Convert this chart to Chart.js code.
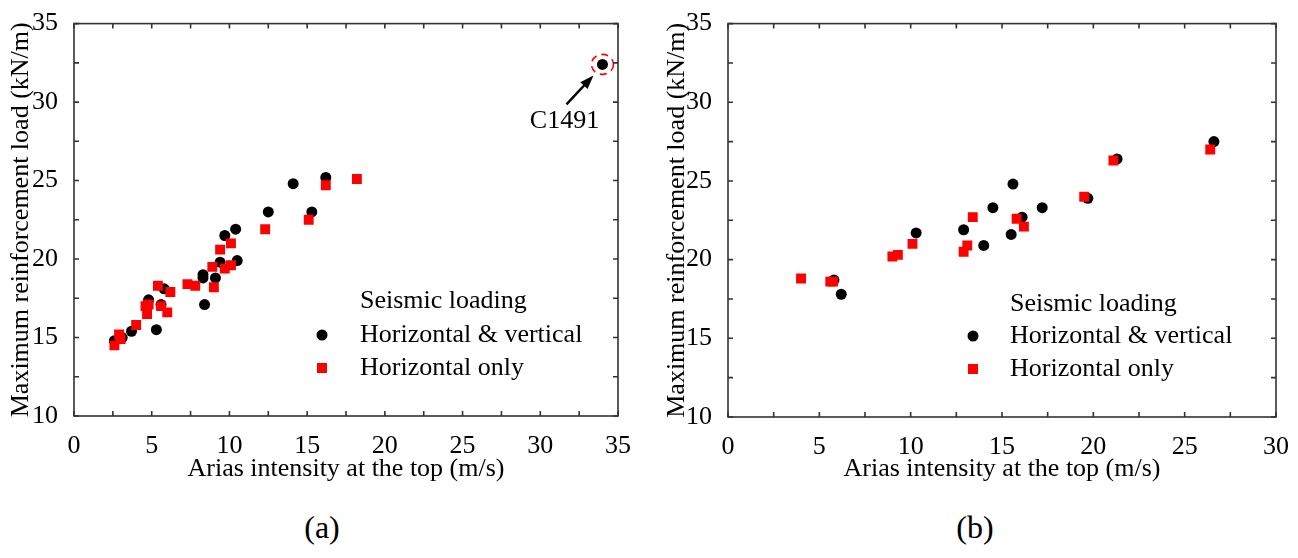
<!DOCTYPE html>
<html>
<head>
<meta charset="utf-8">
<script src="https://cdn.jsdelivr.net/npm/chart.js@4.4.1/dist/chart.umd.min.js"></script>
<style>
  body { margin: 0; background: #fff; }
  #wrap { position: relative; width: 1298px; height: 558px; }
  canvas { position: absolute; top: 0; }
  .cap { position: absolute; top: 509px; width: 100px; height: 40px; line-height: 40px;
         text-align: center; font: 32px "Liberation Serif", "Times New Roman", serif; color: #000; }
</style>
</head>
<body>
<div id="wrap">
  <canvas id="chart_a" width="650" height="500" style="left:0"></canvas>
  <canvas id="chart_b" width="648" height="500" style="left:650px"></canvas>
  <div class="cap" style="left:272px">(a)</div>
  <div class="cap" style="left:925px">(b)</div>
</div>
<script>
/* data */
const seriesNames = ['Horizontal & vertical', 'Horizontal only'];
const legendTitle = 'Seismic loading';
const xTitle = 'Arias intensity at the top (m/s)';
const yTitle = 'Maximum reinforcement load (kN/m)';

// panel (a)
const blackA_x = [2.6, 3.1, 3.7, 4.8, 5.3, 5.6, 5.8, 8.3, 8.3, 8.4, 9.1, 9.4, 9.7, 10.4, 10.5, 12.5, 14.1, 15.3, 16.2, 34.0];
const blackA_y = [14.8, 15.0, 15.4, 17.4, 15.5, 17.1, 18.1, 18.8, 19.0, 17.1, 18.8, 19.8, 21.5, 21.9, 19.9, 23.0, 24.8, 23.0, 25.2, 32.4];
const redA_x = [2.6, 2.9, 3.0, 4.0, 4.6, 4.7, 4.8, 5.4, 5.6, 6.0, 6.2, 7.3, 7.8, 8.9, 9.0, 9.4, 9.7, 10.1, 10.1, 12.3, 15.1, 16.2, 18.2];
const redA_y = [14.5, 15.2, 14.9, 15.8, 17.0, 16.5, 17.1, 18.3, 17.0, 16.6, 17.9, 18.4, 18.3, 19.5, 18.2, 20.6, 19.4, 21.0, 19.6, 21.9, 22.5, 24.7, 25.1];
const markedLabel = 'C1491';
const markedIndex = blackA_x.length - 1;

// panel (b)
const blackB_x = [5.8, 6.2, 10.3, 12.9, 14.0, 14.5, 15.5, 15.6, 16.1, 17.2, 19.7, 21.3, 26.6];
const blackB_y = [18.7, 17.8, 21.7, 21.9, 20.9, 23.3, 21.6, 24.8, 22.7, 23.3, 23.9, 26.4, 27.5];
const redB_x = [4.0, 5.6, 5.75, 9.0, 9.3, 10.1, 12.9, 13.1, 13.4, 15.8, 16.2, 19.5, 21.1, 26.4];
const redB_y = [18.8, 18.6, 18.6, 20.2, 20.3, 21.0, 20.5, 20.9, 22.7, 22.6, 22.1, 24.0, 26.3, 27.0];

const xMaxA = 35, xMaxB = 30;
const yMin = 10, yMax = 35;
const tickStep = 5, minorStep = 2.5;

const FONT = '"Liberation Serif", "Times New Roman", serif';

function toPoints(xs, ys) {
    return xs.map((x, i) => ({x: x, y: ys[i]}));
}

/* frame with inward ticks on all four sides */
const frameTicks = {
    id: 'frameTicks',
    afterDraw(chart) {
        const {ctx, chartArea: a, scales: {x, y}} = chart;
        ctx.save();
        ctx.strokeStyle = '#333';
        ctx.lineWidth = 1.6;
        ctx.strokeRect(a.left, a.top, a.right - a.left, a.bottom - a.top);
        ctx.beginPath();
        for (let v = x.min; v <= x.max + 1e-9; v += minorStep) {
            const p = x.getPixelForValue(v);
            ctx.moveTo(p, a.bottom); ctx.lineTo(p, a.bottom - 5);
            ctx.moveTo(p, a.top); ctx.lineTo(p, a.top + 5);
        }
        for (let v = y.min; v <= y.max + 1e-9; v += minorStep) {
            const p = y.getPixelForValue(v);
            ctx.moveTo(a.left, p); ctx.lineTo(a.left + 5, p);
            ctx.moveTo(a.right, p); ctx.lineTo(a.right - 5, p);
        }
        ctx.stroke();
        ctx.restore();
    }
};

/* legend drawn inside the plot */
const seismicLegend = {
    id: 'seismicLegend',
    afterDraw(chart, args, opts) {
        const ctx = chart.ctx;
        ctx.save();
        ctx.font = '26px ' + FONT;
        ctx.fillStyle = '#000';
        ctx.textBaseline = 'middle';
        ctx.textAlign = 'left';
        ctx.fillText(legendTitle, opts.textX, opts.rows[0]);
        ctx.fillText(seriesNames[0], opts.textX, opts.rows[1]);
        ctx.fillText(seriesNames[1], opts.textX, opts.rows[2]);
        ctx.beginPath();
        ctx.arc(opts.markX, opts.rows[1], 5.5, 0, Math.PI * 2);
        ctx.fill();
        ctx.fillStyle = 'red';
        ctx.fillRect(opts.markX - 5, opts.rows[2] - 5, 10, 10);
        ctx.restore();
    }
};

/* C1491 call-out on panel (a) */
const callout = {
    id: 'callout',
    afterDatasetsDraw(chart, args, opts) {
        if (!opts.show) return;
        const {ctx, scales: {x, y}} = chart;
        const px = x.getPixelForValue(blackA_x[markedIndex]);
        const py = y.getPixelForValue(blackA_y[markedIndex]);
        ctx.save();
        ctx.strokeStyle = 'red';
        ctx.lineWidth = 1.6;
        ctx.setLineDash([7, 5]);
        ctx.beginPath();
        ctx.ellipse(px, py, 11, 10, 0, 0, Math.PI * 2);
        ctx.stroke();
        ctx.setLineDash([]);
        // arrow
        const tx = px - 9, ty = py + 11;
        const sx = px - 36, sy = py + 40;
        const ang = Math.atan2(ty - sy, tx - sx);
        ctx.strokeStyle = '#000';
        ctx.fillStyle = '#000';
        ctx.lineWidth = 2.5;
        ctx.beginPath();
        ctx.moveTo(sx, sy);
        ctx.lineTo(tx - 10 * Math.cos(ang), ty - 10 * Math.sin(ang));
        ctx.stroke();
        ctx.beginPath();
        ctx.moveTo(tx, ty);
        ctx.lineTo(tx - 14 * Math.cos(ang) + 5 * Math.sin(ang), ty - 14 * Math.sin(ang) - 5 * Math.cos(ang));
        ctx.lineTo(tx - 14 * Math.cos(ang) - 5 * Math.sin(ang), ty - 14 * Math.sin(ang) + 5 * Math.cos(ang));
        ctx.closePath();
        ctx.fill();
        ctx.font = '26px ' + FONT;
        ctx.textAlign = 'center';
        ctx.textBaseline = 'middle';
        ctx.fillText(markedLabel, px - 38, py + 57);
        ctx.restore();
    }
};

function makeChart(id, blackPts, redPts, xMax, yWidth, xHeight, padRight, yTitlePad, legendOpts, showCallout) {
    const ctx = document.getElementById(id).getContext('2d');
    return new Chart(ctx, {
        type: 'scatter',
        data: {
            datasets: [{
                label: seriesNames[1],
                data: redPts,
                pointStyle: 'rect',
                radius: 7,
                backgroundColor: 'red',
                borderWidth: 0
            }, {
                label: seriesNames[0],
                data: blackPts,
                pointStyle: 'circle',
                radius: 5.5,
                backgroundColor: '#000',
                borderWidth: 0
            }]
        },
        options: {
            responsive: false,
            animation: false,
            layout: { padding: { left: 0, right: padRight, top: 20, bottom: 0 } },
            plugins: {
                legend: { display: false },
                tooltip: { enabled: false },
                seismicLegend: legendOpts,
                callout: { show: showCallout }
            },
            scales: {
                x: {
                    type: 'linear',
                    min: 0,
                    max: xMax,
                    grid: { display: false },
                    border: { display: false },
                    ticks: { stepSize: tickStep, color: '#000', padding: 7, maxRotation: 0,
                             font: { family: FONT, size: 26 } },
                    title: { display: true, text: xTitle, color: '#000',
                             font: { family: FONT, size: 26 }, padding: { top: 0, bottom: 15 } },
                    afterFit(scale) { scale.height = xHeight; }
                },
                y: {
                    type: 'linear',
                    min: yMin,
                    max: yMax,
                    grid: { display: false },
                    border: { display: false },
                    ticks: { stepSize: tickStep, color: '#000', padding: 8,
                             font: { family: FONT, size: 26 } },
                    title: { display: true, text: yTitle, color: '#000',
                             font: { family: FONT, size: 26 }, padding: { top: yTitlePad, bottom: 0 } },
                    afterFit(scale) { scale.width = yWidth; }
                }
            }
        },
        plugins: [frameTicks, seismicLegend, callout]
    });
}

makeChart('chart_a', toPoints(blackA_x, blackA_y), toPoints(redA_x, redA_y), xMaxA,
          74, 84, 32, 6, { markX: 322, textX: 360, rows: [301, 335, 368] }, true);
makeChart('chart_b', toPoints(blackB_x, blackB_y), toPoints(redB_x, redB_y), xMaxB,
          78, 83, 22, 12, { markX: 323, textX: 360, rows: [304, 336, 369] }, false);
</script>
</body>
</html>
